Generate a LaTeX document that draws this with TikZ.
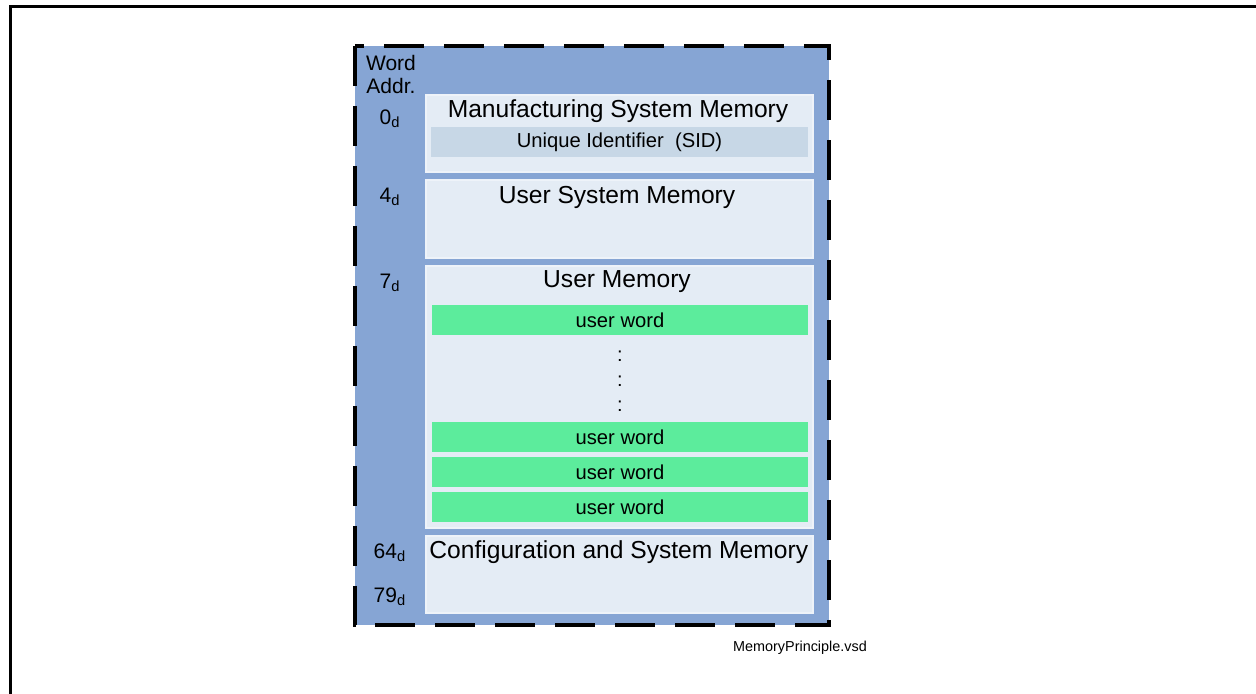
\documentclass[tikz,border=0pt]{standalone}
\usepackage{fontspec}
\setmainfont{Liberation Sans}
\usetikzlibrary{positioning}

\definecolor{boxblue}{RGB}{134,165,212}
\definecolor{panelfill}{RGB}{228,236,245}
\definecolor{panelline}{RGB}{238,243,249}
\definecolor{sidfill}{RGB}{199,215,230}
\definecolor{wordgreen}{RGB}{92,236,156}

\tikzstyle{memblock}=[fill=boxblue, minimum width=237pt, minimum height=289.5pt, inner sep=0pt]
\tikzstyle{memborder}=[draw=black, line width=2pt, dash pattern=on 20pt off 10pt]
\tikzstyle{panel}=[draw=panelline, fill=panelfill, line width=1pt, minimum width=193.5pt, inner sep=0pt]
\tikzstyle{title}=[font=\fontsize{12.3}{14}\selectfont, inner sep=0pt]
\tikzstyle{sid}=[fill=sidfill, minimum width=188.5pt, minimum height=15pt, inner sep=0pt, font=\fontsize{10.1}{12}\selectfont]
\tikzstyle{word}=[fill=wordgreen, minimum width=188pt, minimum height=15pt, inner sep=0pt, font=\fontsize{10.1}{12}\selectfont]
\tikzstyle{addr}=[font=\fontsize{10.5}{12}\selectfont, inner sep=0pt]

\begin{document}
\begin{tikzpicture}[x=0.5pt, y=-0.5pt]
	\useasboundingbox (0,0) rectangle (1256,694);
	% page frame, only top and left edge
	\coordinate (fbot) at (10.5,694);
	\coordinate (fcorner) at (10.5,6.5);
	\coordinate (fright) at (1256,6.5);
	\draw[line width=1.5pt] (fbot) -- (fcorner) -- (fright);

	% the whole memory, dashes start at the top left corner
	\node[memblock] (mem) at (592,335.5) {};
	\draw[memborder] (mem.north west) -- (mem.south west) -- (mem.south east)
		-- (mem.north east) -- cycle;

	% the memory areas
	\foreach \pos/\name/\h in {{(619.5,133.5)/mfg/38.5pt}, {(619.5,219)/usm/39pt},
							   {(619.5,397)/um/131pt}, {(619.5,574.5)/cfg/38.5pt}}
	\node[panel, minimum height=\h] (\name) at \pos {};

	\node[title] (mfgtitle) at (618,111) {Manufacturing System Memory};
	\node[title] (usmtitle) at (617,197) {User System Memory};
	\node[title] (umtitle) at (617,282) {User Memory};
	\node[title, anchor=west] (cfgtitle) at (429,552) {Configuration and System Memory};

	\node[sid] (sid) at (619.5,142) {Unique Identifier~ (SID)};

	% user words and the gap between them
	\foreach \y/\name in {320/w1, 437/w2, 472/w3, 507/w4}
	\node[word] (\name) at (620,\y) {user word};
	\foreach \y/\name in {356/d1, 381/d2, 406/d3}
	\node[font=\fontsize{10}{12}\selectfont, inner sep=0pt] (\name) at (620,\y) {:};

	% word addresses
	\node[addr] (wordlbl) at (391,63) {Word};
	\node[addr] (addrlbl) at (391,86) {Addr.};
	\foreach \y/\name/\val in {119/a0/0, 197/a4/4, 283/a7/7, 553/a64/64, 597/a79/79}
	\node[addr] (\name) at (390,\y) {\val\textsubscript{d}};

	\node[font=\fontsize{7.2}{9}\selectfont, inner sep=0pt] (file) at (800,648) {MemoryPrinciple.vsd};
\end{tikzpicture}
\end{document}
